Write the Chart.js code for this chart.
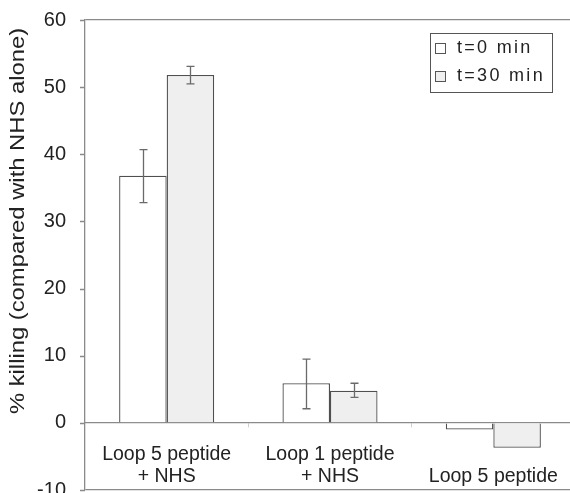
<!DOCTYPE html>
<html>
<head>
<meta charset="utf-8">
<script src="https://cdn.jsdelivr.net/npm/chart.js@4.4.1/dist/chart.umd.min.js"></script>
<style>
html,body{margin:0;padding:0;overflow:hidden;background:#fff;}
#wrap{width:570px;height:493px;overflow:hidden;}
</style>
</head>
<body>
<div id="wrap"><canvas id="c" width="578" height="493"></canvas></div>
<script>
const categories = [["Loop 5 peptide", "+ NHS"], ["Loop 1 peptide", "+ NHS"], ["", "Loop 5 peptide"]];
const seriesNames = ["t=0 min", "t=30 min"];
const t0Values = [36.8, 5.9, -1.0];
const t30Values = [51.8, 4.8, -3.7];
const t0ErrLow = [32.8, 2.1, null];
const t0ErrHigh = [40.7, 9.5, null];
const t30ErrLow = [50.5, 3.8, null];
const t30ErrHigh = [53.1, 5.9, null];
const yTicks = [-10, 0, 10, 20, 30, 40, 50, 60];
const yTitle = "% killing (compared with NHS alone)";

const FONT = "'Liberation Sans', Arial, sans-serif";
const TXT = '#222';
const AX = '#8a8a8a';

const errorBars = {
  id: 'errorBars',
  afterDatasetsDraw(chart) {
    const ctx = chart.ctx;
    const y = chart.scales.y;
    const lows = [t0ErrLow, t30ErrLow], highs = [t0ErrHigh, t30ErrHigh];
    ctx.save();
    ctx.strokeStyle = '#6a6a6a';
    ctx.lineWidth = 1.3;
    chart.data.datasets.forEach((ds, di) => {
      const meta = chart.getDatasetMeta(di);
      meta.data.forEach((bar, i) => {
        const lo = lows[di][i], hi = highs[di][i];
        if (lo == null || hi == null) return;
        const x = Math.round(bar.x) + 0.5;
        const yl = y.getPixelForValue(lo), yh = y.getPixelForValue(hi);
        ctx.beginPath();
        ctx.moveTo(x, yl); ctx.lineTo(x, yh);
        ctx.moveTo(x - 4, yl); ctx.lineTo(x + 4, yl);
        ctx.moveTo(x - 4, yh); ctx.lineTo(x + 4, yh);
        ctx.stroke();
      });
    });
    ctx.restore();
  }
};

const customText = {
  id: 'customText',
  afterDraw(chart) {
    const ctx = chart.ctx;
    const y = chart.scales.y;
    ctx.save();
    ctx.strokeStyle = AX;
    ctx.lineWidth = 1.3;
    ctx.beginPath();
    y.ticks.forEach(t => {
      const py = Math.round(y.getPixelForValue(t.value)) + 0.5;
      ctx.moveTo(chart.chartArea.left - 5, py);
      ctx.lineTo(chart.chartArea.left, py);
    });
    ctx.stroke();
    ctx.restore();

    ctx.save();
    ctx.fillStyle = TXT;
    ctx.font = "20px " + FONT;
    ctx.translate(18, 221);
    ctx.rotate(-Math.PI / 2);
    ctx.scale(1.19, 1);
    ctx.textAlign = 'center';
    ctx.textBaseline = 'middle';
    ctx.fillText(yTitle, 0, 0);
    ctx.restore();

    ctx.save();
    const bx = 430.5, by = 33.5, bw = 122, bh = 59;
    ctx.fillStyle = '#fff';
    ctx.fillRect(bx, by, bw, bh);
    ctx.strokeStyle = '#555';
    ctx.lineWidth = 1;
    ctx.strokeRect(bx, by, bw, bh);
    ctx.font = "18px " + FONT;
    ctx.textBaseline = 'middle';
    ctx.textAlign = 'left';
    chart.data.datasets.forEach((ds, i) => {
      const ry = 48 + i * 28;
      ctx.fillStyle = ds.backgroundColor;
      ctx.fillRect(435.5, ry - 4.5, 10, 10);
      ctx.strokeStyle = '#555';
      ctx.strokeRect(435.5, ry - 4.5, 10, 10);
      ctx.fillStyle = TXT;
      if ('letterSpacing' in ctx) ctx.letterSpacing = '2.3px';
      ctx.fillText(ds.label, 457, ry);
    });
    ctx.restore();
  }
};

new Chart(document.getElementById('c'), {
  type: 'bar',
  data: {
    labels: categories,
    datasets: [
      { label: seriesNames[0], data: t0Values, backgroundColor: '#ffffff', borderColor: '#4f4f4f', borderWidth: 1.3 },
      { label: seriesNames[1], data: t30Values, backgroundColor: '#efefef', borderColor: '#4f4f4f', borderWidth: 1.3 }
    ]
  },
  plugins: [errorBars, customText],
  options: {
    responsive: false,
    animation: false,
    devicePixelRatio: 1,
    layout: { padding: { top: 20, bottom: 3, left: 0, right: 3 } },
    datasets: { bar: { categoryPercentage: 0.582, barPercentage: 1.0 } },
    plugins: { legend: { display: false }, tooltip: { enabled: false } },
    scales: {
      x: {
        position: { y: 0 },
        offset: true,
        afterFit(scale) { scale.height = 0; },
        grid: { display: true, drawOnChartArea: false, offset: true, tickLength: 4, tickColor: '#cfcfcf' },
        border: { display: true, color: AX, width: 1.3 },
        ticks: { color: TXT, font: { family: FONT, size: 19.5, lineHeight: 1.13 }, padding: 17, maxRotation: 0, autoSkip: false }
      },
      y: {
        min: -10, max: 60,
        afterFit(scale) { scale.width = 85; },
        afterBuildTicks(scale) { scale.ticks = yTicks.map(v => ({ value: v })); },
        grid: {
          drawOnChartArea: true,
          tickLength: 19,
          tickColor: 'rgba(0,0,0,0)',
          color: (c) => (c.tick && (c.tick.value === 60 || c.tick.value === -10)) ? AX : 'rgba(0,0,0,0)',
          lineWidth: 1.3
        },
        border: { display: true, color: AX, width: 1.3 },
        ticks: { color: TXT, font: { family: FONT, size: 20, lineHeight: 0.25 }, padding: 0 }
      }
    }
  }
});
</script>
</body>
</html>
